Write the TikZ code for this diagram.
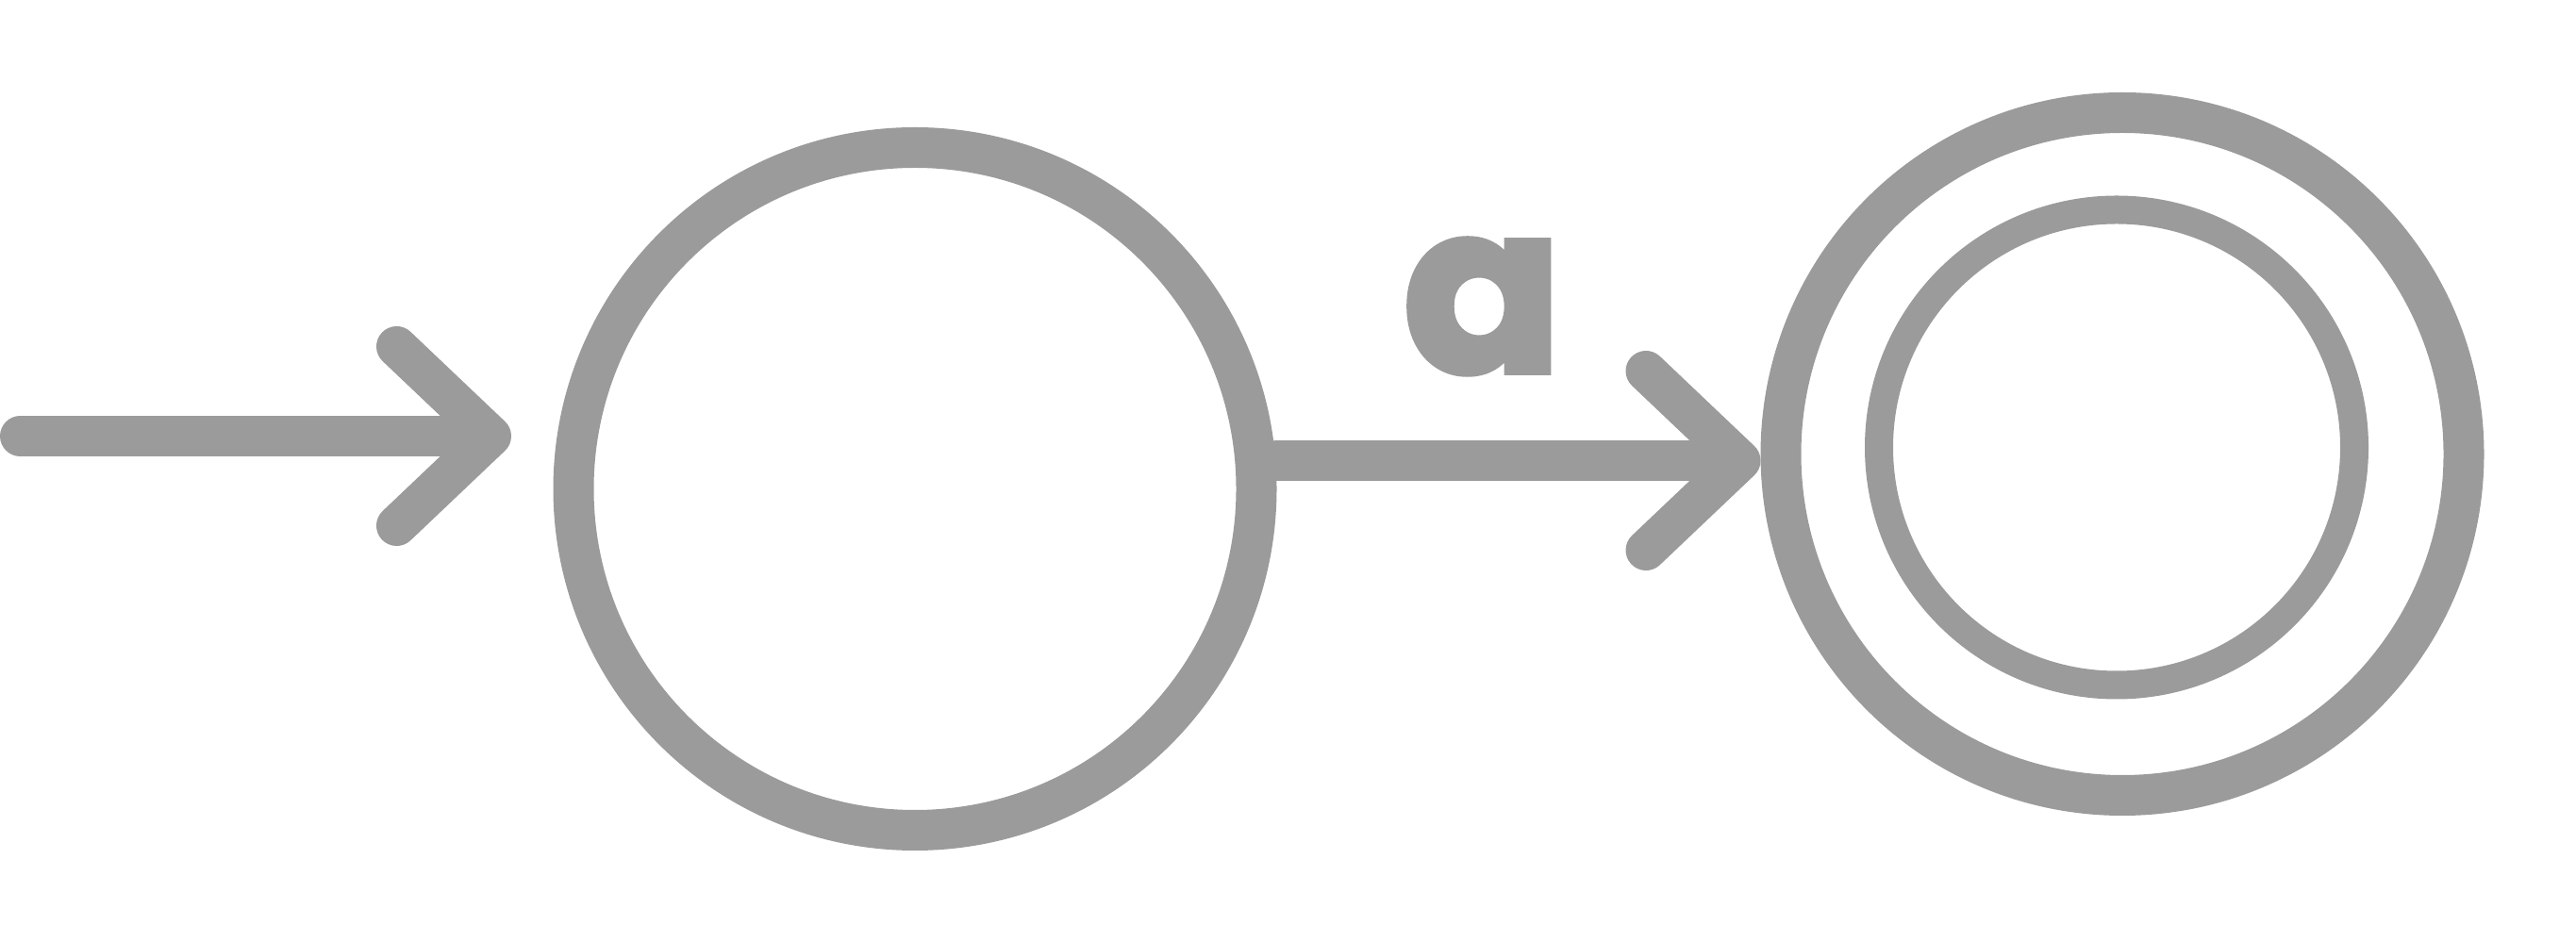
\documentclass[tikz,border=0pt]{standalone}
\usepackage{fontspec}
\usepackage{graphicx}
\usepackage{tikz}
\usetikzlibrary{arrows.meta,positioning,calc}
\newfontfamily\handfont{Poppins}[FakeBold=3]
\definecolor{pencil}{HTML}{9B9B9B}
\tikzset{
  state/.style={circle,draw=pencil,line width=0.43cm,inner sep=0pt,minimum size=7.24cm},
  fl/.style={-{Straight Barb[round,length=10mm 0,width=19mm 0]},draw=pencil,line width=0.43cm,line cap=round},
  lbl/.style={text=pencil,font=\handfont\bfseries,inner sep=0pt},
}
\begin{document}
\begin{tikzpicture}
\useasboundingbox (0,0) rectangle (27.31,9.99);
\node[state] (q0) at (9.70,4.805) {};
\node[state] (q1) at (22.50,5.175) {};
\node[state,line width=0.30cm,minimum size=5.04cm] (q1in) at (22.44,5.245) {};
\coordinate (start) at (0.215,5.365);
\node[lbl] (sym) at (15.72,6.74) {\resizebox{!}{1.40cm}{a}};
\draw[fl,shorten >=0.445cm] (start) -- (start -| q0.west);
\draw[fl] ([yshift=3mm]q0.east) -- ([yshift=3mm]q0.east -| q1.west);
\end{tikzpicture}
\end{document}
